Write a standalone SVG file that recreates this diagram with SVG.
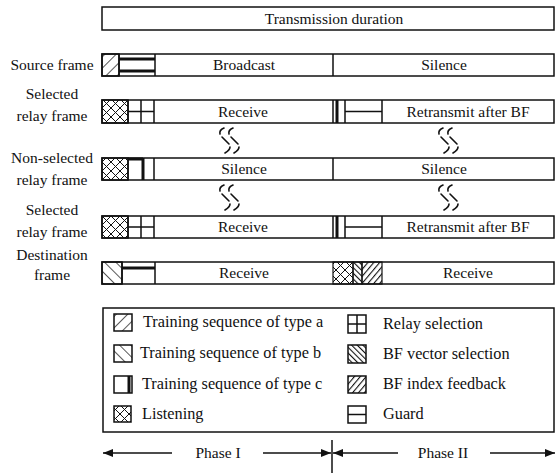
<svg xmlns="http://www.w3.org/2000/svg" xmlns:xlink="http://www.w3.org/1999/xlink" width="558" height="473" viewBox="0 0 558 473">
<style>
.bx{fill:#fff;stroke:#111;stroke-width:1.5}
.ln{stroke:#111;stroke-width:1.5;fill:none}
.tk{stroke:#111;stroke-width:3;fill:none}
.t{font-size:15.5px;fill:#111;text-anchor:middle}
.lg{font-size:16.3px;fill:#111}
.sq{stroke:#111;stroke-width:1.6;fill:none;stroke-linecap:round}
</style>
<defs>
<pattern id="pA" patternUnits="userSpaceOnUse" width="8" height="8" patternTransform="rotate(45)">
<line x1="0" y1="0" x2="0" y2="8" stroke="#111" stroke-width="1.4"/>
</pattern>
<pattern id="pB" patternUnits="userSpaceOnUse" width="8" height="8" patternTransform="rotate(-45)">
<line x1="0" y1="0" x2="0" y2="8" stroke="#111" stroke-width="1.4"/>
</pattern>
<pattern id="pL" patternUnits="userSpaceOnUse" width="9" height="9" x="102" y="0">
<path d="M0,0 L9,9 M9,0 L0,9" stroke="#111" stroke-width="1"/>
</pattern>
<pattern id="pV" patternUnits="userSpaceOnUse" width="4" height="4" patternTransform="rotate(-45)">
<line x1="0" y1="0" x2="0" y2="4" stroke="#111" stroke-width="2.2"/>
</pattern>
<pattern id="pI" patternUnits="userSpaceOnUse" width="4.5" height="4.5" patternTransform="rotate(40)">
<line x1="0" y1="0" x2="0" y2="4.5" stroke="#111" stroke-width="2.2"/>
</pattern>
<marker id="ah" viewBox="0 0 10 8" refX="10" refY="4" markerWidth="10" markerHeight="8" markerUnits="userSpaceOnUse" orient="auto-start-reverse">
<path d="M0,0 L10,4 L0,8 Z" fill="#111"/>
</marker>
<g id="sqg">
<path class="sq" d="M6,0 Q1,2 2,6 M4,9 L11,16 M12,19 Q12,22 7,25"/>
<path class="sq" d="M15,0 Q10,2 11,6 M13,9 L20,16 M21,19 Q21,22 16,25"/>
</g>
</defs>

<g font-family="'Liberation Serif', 'DejaVu Serif', 'Times New Roman', serif">
<g id="transmission">
<rect class="bx" x="102" y="7" width="452" height="23"/>
<text class="t" x="334" y="23.5">Transmission duration</text>
</g>

<g id="source-frame">
<text class="t" x="52" y="70">Source frame</text>
<rect class="bx" x="102" y="54" width="452" height="22"/>
<rect x="102" y="54" width="17" height="22" fill="url(#pA)" stroke="#111" stroke-width="1.5"/>
<path class="ln" d="M119,54 V76 M155,54 V76 M333,54 V76"/>
<path class="tk" d="M119,59 H155 M119,71 H155" stroke-width="2"/>
<text class="t" x="244" y="70">Broadcast</text>
<text class="t" x="444" y="70">Silence</text>
</g>

<g id="selected-relay-1">
<text class="t" x="52" y="99">Selected</text>
<text class="t" x="52" y="121">relay frame</text>
<rect class="bx" x="102" y="100" width="452" height="23"/>
<rect x="102" y="100" width="26" height="23" fill="url(#pL)" stroke="#111" stroke-width="1.5"/>
<path class="ln" d="M128,100 V123 M154,100 V123 M141,100 V123 M128,111.5 H154"/>
<path class="ln" d="M333,100 V123 M345,100 V123 M382,100 V123 M345,111.5 H382"/>
<path class="tk" d="M337,100 V123" stroke-width="2.2"/>
<text class="t" x="243" y="117">Receive</text>
<text class="t" x="468" y="117">Retransmit after BF</text>
</g>

<g id="non-selected-relay">
<text class="t" x="52" y="163">Non-selected</text>
<text class="t" x="52" y="185">relay frame</text>
<rect class="bx" x="102" y="158" width="452" height="22"/>
<rect x="102" y="158" width="26" height="22" fill="url(#pL)" stroke="#111" stroke-width="1.5"/>
<path class="ln" d="M128,158 V180 M154,158 V180 M333,158 V180"/>
<path class="tk" d="M143,158 V180 M128,159 H143"/>
<text class="t" x="244" y="174">Silence</text>
<text class="t" x="444" y="174">Silence</text>
</g>

<g id="selected-relay-2">
<text class="t" x="52" y="215">Selected</text>
<text class="t" x="52" y="237">relay frame</text>
<rect class="bx" x="102" y="216" width="452" height="22"/>
<rect x="102" y="216" width="26" height="22" fill="url(#pL)" stroke="#111" stroke-width="1.5"/>
<path class="ln" d="M128,216 V238 M154,216 V238 M141,216 V238 M128,227 H154"/>
<path class="ln" d="M333,216 V238 M345,216 V238 M382,216 V238 M345,227 H382"/>
<path class="tk" d="M337,216 V238" stroke-width="2.2"/>
<text class="t" x="243" y="232">Receive</text>
<text class="t" x="468" y="232">Retransmit after BF</text>
</g>

<g id="destination-frame">
<text class="t" x="52" y="260">Destination</text>
<text class="t" x="52" y="280">frame</text>
<rect class="bx" x="102" y="262" width="452" height="22"/>
<rect x="102" y="262" width="20" height="22" fill="url(#pB)" stroke="#111" stroke-width="1.5"/>
<path class="ln" d="M122,262 V284 M155,262 V284"/>
<path class="tk" d="M122,268 H155" stroke-width="2"/>
<rect x="333" y="262" width="20" height="22" fill="url(#pL)" stroke="#111" stroke-width="1.2"/>
<rect x="353" y="262" width="9" height="22" fill="url(#pV)" stroke="#111" stroke-width="1.2"/>
<rect x="362" y="262" width="20" height="22" fill="url(#pI)" stroke="#111" stroke-width="1.2"/>
<text class="t" x="244" y="278">Receive</text>
<text class="t" x="468" y="278">Receive</text>
</g>

<g id="breaks">
<use xlink:href="#sqg" x="218" y="128"/>
<use xlink:href="#sqg" x="437" y="128"/>
<use xlink:href="#sqg" x="218" y="185"/>
<use xlink:href="#sqg" x="437" y="185"/>
</g>

<g id="legend">
<rect class="bx" x="103" y="308" width="451" height="124"/>
<rect x="114" y="314" width="18" height="17" fill="url(#pA)" stroke="#111" stroke-width="1.5"/>
<text class="lg" x="143" y="327">Training sequence of type a</text>
<rect x="114" y="345" width="18" height="17" fill="url(#pB)" stroke="#111" stroke-width="1.5"/>
<text class="lg" x="140" y="358">Training sequence of type b</text>
<rect class="bx" x="114" y="376" width="18" height="17"/>
<path class="tk" d="M129,376 V393" stroke-width="2.4"/>
<text class="lg" x="142" y="389">Training sequence of type c</text>
<rect x="114" y="406" width="17" height="16" fill="url(#pL)" stroke="#111" stroke-width="1.5"/>
<text class="lg" x="142" y="419">Listening</text>
<rect class="bx" x="348" y="315" width="18" height="18"/>
<path class="ln" d="M357,315 V333 M348,324 H366"/>
<text class="lg" x="383" y="329">Relay selection</text>
<rect x="348" y="345" width="18" height="18" fill="url(#pV)" stroke="#111" stroke-width="1.5"/>
<text class="lg" x="383" y="359">BF vector selection</text>
<rect x="348" y="376" width="18" height="17" fill="url(#pI)" stroke="#111" stroke-width="1.5"/>
<text class="lg" x="383" y="389">BF index feedback</text>
<rect class="bx" x="348" y="406" width="18" height="17"/>
<path class="ln" d="M348,414.5 H366"/>
<text class="lg" x="383" y="419">Guard</text>
</g>

<g id="connectors">
<line class="ln" x1="172" y1="453" x2="103" y2="453" marker-end="url(#ah)"/>
<line class="ln" x1="263" y1="453" x2="331" y2="453" marker-end="url(#ah)"/>
<line class="ln" x1="332" y1="440" x2="332" y2="473"/>
<line class="ln" x1="398" y1="453" x2="333" y2="453" marker-end="url(#ah)"/>
<line class="ln" x1="490" y1="453" x2="555" y2="453" marker-end="url(#ah)"/>
<text class="t" x="218" y="458">Phase I</text>
<text class="t" x="443" y="458">Phase II</text>
</g>
</g>
</svg>
